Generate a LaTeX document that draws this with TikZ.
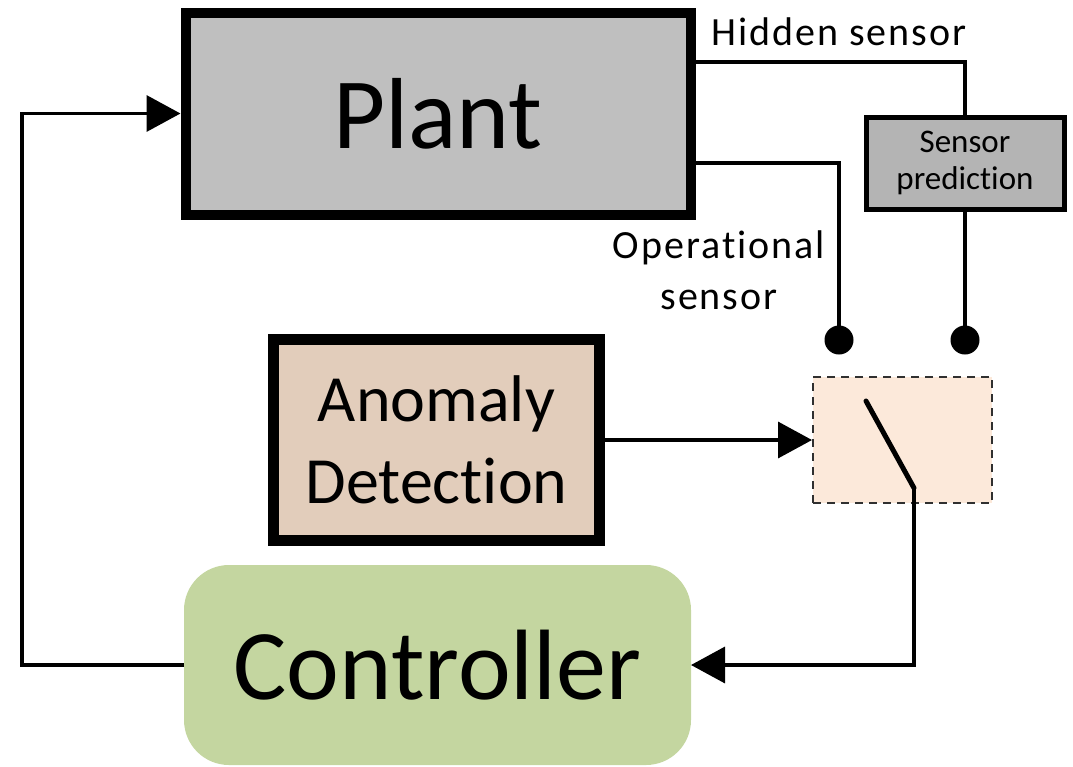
\documentclass[tikz,border=0pt]{standalone}
\usepackage{fontspec}
\setmainfont{Carlito}[Ligatures=NoCommon]
\newfontfamily\labelfont{Carlito}[Ligatures=NoCommon, LetterSpace=5]
\usetikzlibrary{arrows.meta}

\definecolor{plantgray}{HTML}{BFBFBF}
\definecolor{predgray}{HTML}{B4B4B4}
\definecolor{anomtan}{HTML}{E2CDBB}
\definecolor{ctrlgreen}{HTML}{C4D6A0}
\definecolor{switchpeach}{HTML}{FCE9DA}
\definecolor{dashgray}{HTML}{303030}

\begin{document}
\begin{tikzpicture}[x=1pt,y=-1pt,
  wire/.style={line width=3.5pt},
  arr/.style={wire, -{Triangle[length=34pt,width=36pt]}},
  heavybox/.style={draw, rectangle, inner sep=0pt, align=center},
  sensorlabel/.style={inner sep=0pt, align=center,
    font=\labelfont\fontsize{40}{51}\selectfont}]
  \useasboundingbox (0,0) rectangle (1073,766);

  % main blocks
  \node[heavybox, line width=10pt, fill=plantgray,
        minimum width=505pt, minimum height=202pt,
        font=\fontsize{101}{110}\selectfont] (plant) at (438,113.5) {Plant};
  \node[heavybox, line width=11pt, fill=anomtan,
        minimum width=326pt, minimum height=201pt,
        font=\fontsize{66}{82}\selectfont] (anom) at (436.5,440) {Anomaly\\Detection};
  \node[rectangle, fill=ctrlgreen, rounded corners=45pt, inner sep=0pt, outer sep=0pt,
        minimum width=507pt, minimum height=200pt,
        font=\fontsize{100}{110}\selectfont] (ctrl) at (437.5,665) {Controller};
  \node[heavybox, line width=5pt, fill=predgray,
        minimum width=198pt, minimum height=92pt,
        font=\fontsize{33}{37}\selectfont] (pred) at (965,163) {Sensor\\prediction};
  \node[rectangle, draw=dashgray, line width=2pt, dash pattern=on 8pt off 6pt,
        fill=switchpeach, minimum width=179pt, minimum height=126pt] (sw) at (902.5,440) {};

  % switch contacts and lever
  \coordinate (dotA) at (839,340);
  \coordinate (dotB) at (965,340);
  \coordinate (leverTop) at (866,401);
  \coordinate (pivot) at (914,488);
  \fill (dotA) circle (14.5pt);
  \fill (dotB) circle (14.5pt);
  \draw[line width=5pt, line cap=round] (leverTop) -- (pivot);

  % sensor outputs of the plant
  \coordinate (hidOut) at (690,62);
  \coordinate (opOut) at (690,163);
  \draw[wire] (hidOut) -| (pred.north);
  \draw[wire] (pred.south) -- (dotB);
  \draw[wire] (opOut) -| (dotA);

  % control loop
  \draw[arr] (anom.east) -- (sw.west);
  \draw[arr] (pivot) |- (ctrl.east);
  \coordinate (loopLow) at (22,665);
  \coordinate (loopHigh) at (22,113.5);
  \draw[arr] (ctrl.west) -- (loopLow) -- (loopHigh) -- (plant.west);

  % labels
  \node[sensorlabel, anchor=base west] (hidLbl) at (711,45) {Hidden sensor};
  \node[sensorlabel] (opLbl) at (719,270) {Operational\\sensor};
\end{tikzpicture}
\end{document}
